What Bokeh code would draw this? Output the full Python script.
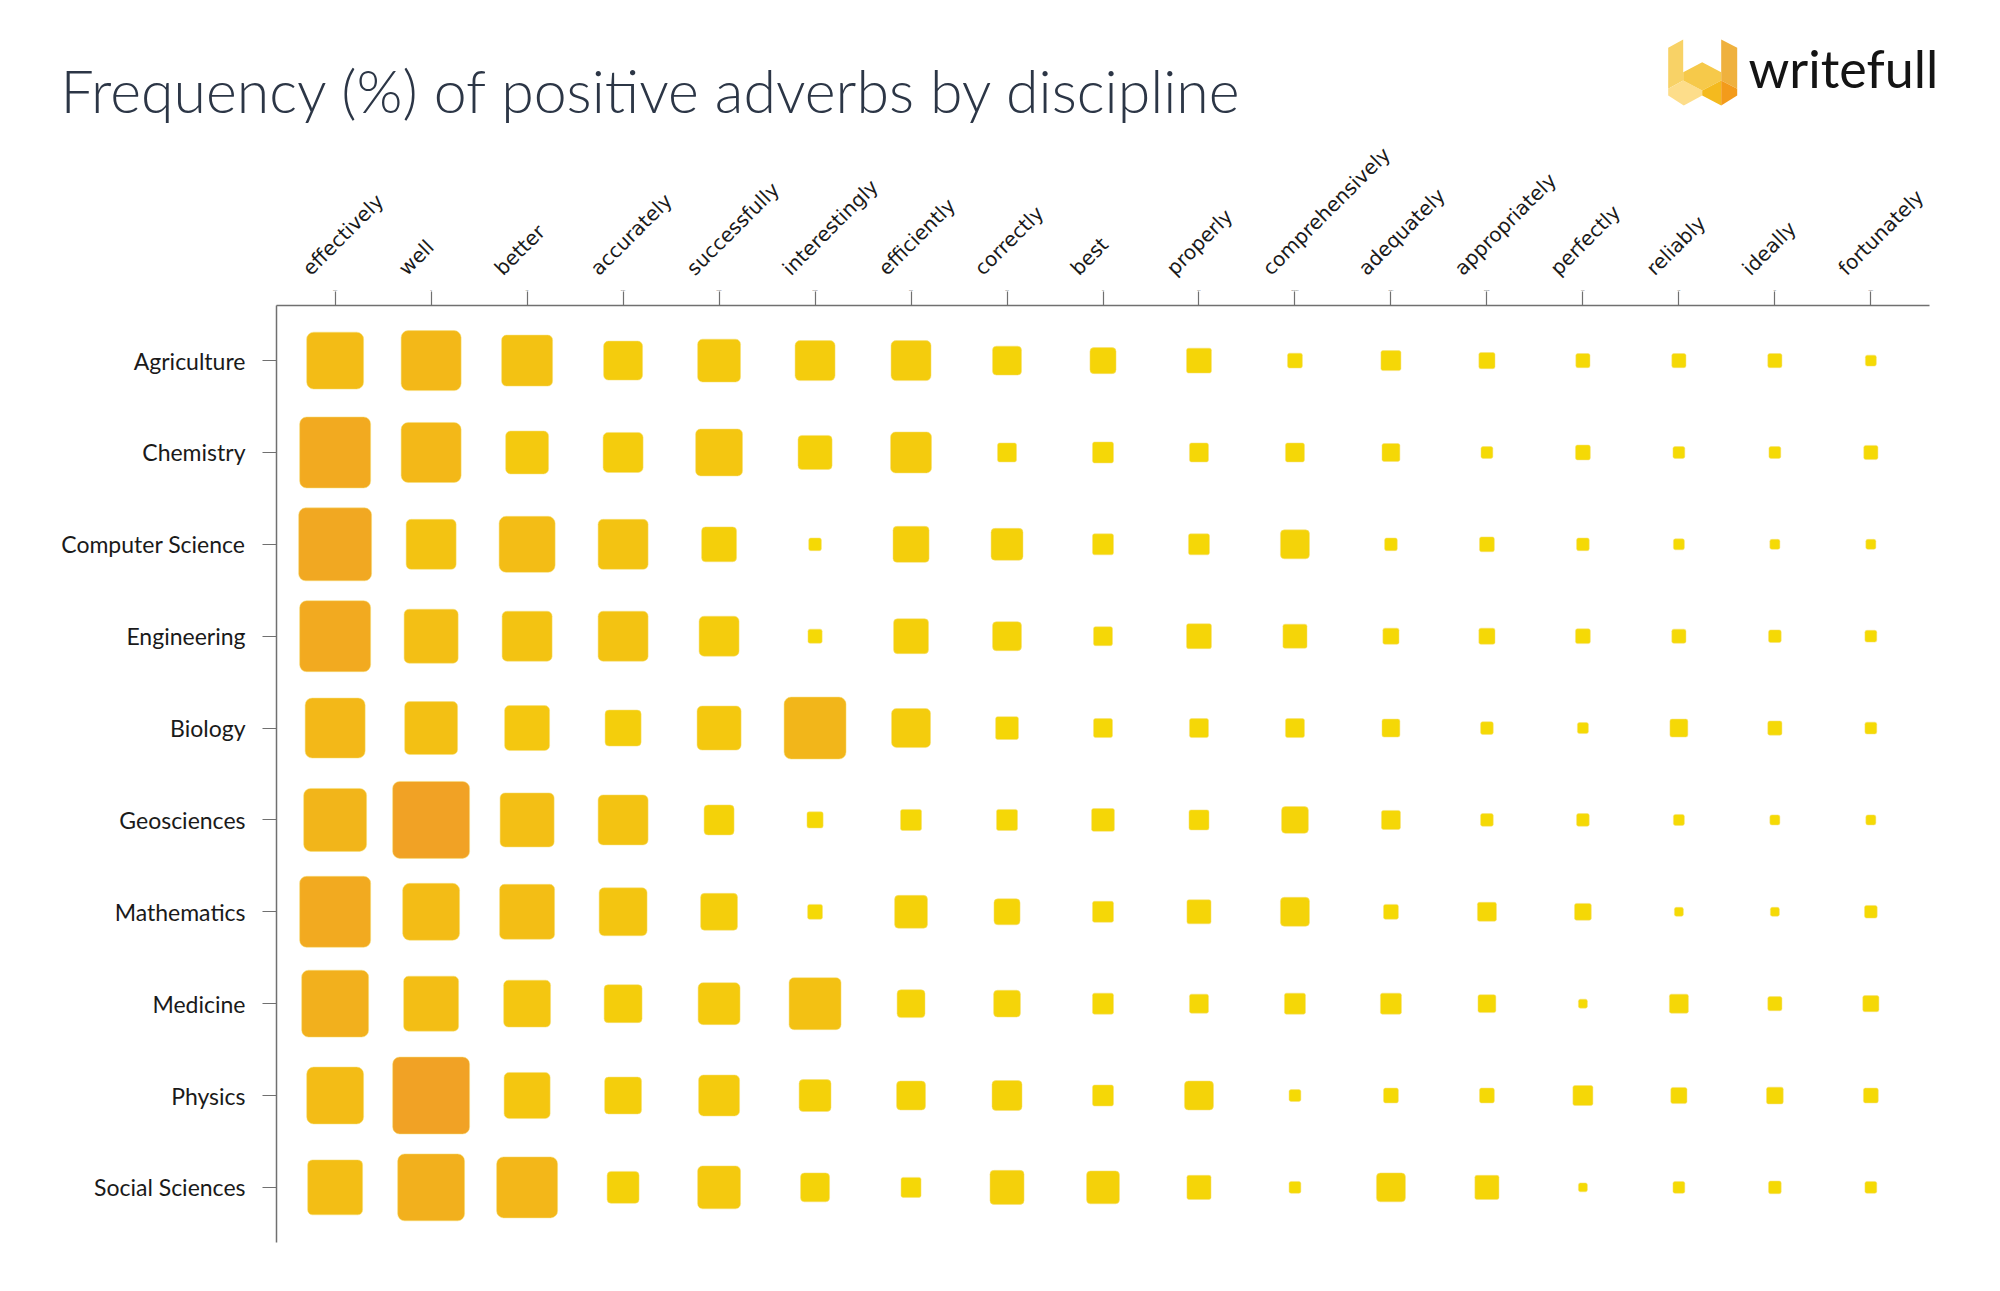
import math
import numpy as np
from bokeh.plotting import figure
from bokeh.layouts import column
from bokeh.models import FactorRange, Range1d, LinearColorMapper, ColumnDataSource
from bokeh.core.properties import value
from bokeh.transform import transform
from bokeh.embed import file_html
from bokeh.resources import INLINE

# ---------------- data ----------------
adverbs = ["effectively", "well", "better", "accurately", "successfully",
           "interestingly", "efficiently", "correctly", "best", "properly",
           "comprehensively", "adequately", "appropriately", "perfectly",
           "reliably", "ideally", "fortunately"]

disciplines = ["Agriculture", "Chemistry", "Computer Science", "Engineering",
               "Biology", "Geosciences", "Mathematics", "Medicine", "Physics",
               "Social Sciences"]

agriculture = [16.2, 18.0, 13.0, 7.6, 9.2, 8.0, 8.0, 4.2, 3.4, 3.1, 1.1, 2.0, 1.3, 1.0, 1.0, 1.0, 0.6]
chemistry = [25.2, 18.0, 9.2, 8.0, 11.0, 5.8, 8.4, 1.8, 2.2, 1.8, 1.8, 1.6, 0.7, 1.1, 0.7, 0.7, 1.0]
computer_science = [26.6, 12.5, 15.7, 12.5, 6.1, 0.8, 6.5, 5.1, 2.2, 2.2, 4.2, 0.8, 1.1, 0.8, 0.6, 0.5, 0.5]
engineering = [25.2, 14.6, 12.5, 12.5, 8.0, 1.0, 6.1, 4.2, 1.8, 3.1, 2.9, 1.3, 1.3, 1.1, 1.0, 0.8, 0.7]
biology = [18.0, 14.0, 10.1, 6.5, 9.7, 19.2, 7.6, 2.6, 1.8, 1.8, 1.8, 1.6, 0.8, 0.6, 1.6, 1.0, 0.7]
geosciences = [19.8, 29.6, 14.6, 12.5, 4.5, 1.3, 2.2, 2.2, 2.6, 2.0, 3.6, 1.8, 0.8, 0.8, 0.6, 0.5, 0.5]
mathematics = [25.2, 16.2, 15.1, 11.5, 6.8, 1.1, 5.4, 3.4, 2.2, 2.9, 4.2, 1.1, 1.8, 1.4, 0.4, 0.4, 0.8]
medicine = [22.4, 15.1, 11.0, 7.2, 8.8, 13.5, 3.9, 3.6, 2.2, 1.8, 2.2, 2.2, 1.6, 0.4, 1.8, 1.0, 1.3]
physics = [16.2, 29.6, 10.6, 6.8, 8.4, 5.1, 4.2, 4.5, 2.2, 4.2, 0.7, 1.1, 1.1, 2.0, 1.3, 1.4, 1.1]
social_sciences = [15.1, 22.4, 18.6, 5.1, 9.2, 4.2, 2.0, 5.8, 5.4, 2.9, 0.7, 4.2, 2.9, 0.4, 0.7, 0.8, 0.7]

rows = [agriculture, chemistry, computer_science, engineering, biology,
        geosciences, mathematics, medicine, physics, social_sciences]

title_text = "Frequency (%) of positive adverbs by discipline"
brand_text = "writefull"

# ---------------- geometry ----------------
PAGE_W = 2000
TOP_H = 286                      # header strip: title, logo, column labels
FRAME_W, FRAME_H = 1653, 937
LEFT, TOP, BOTTOM = 276, 305 - TOP_H, 41
RIGHT = PAGE_W - LEFT - FRAME_W
XPAD, YPAD = 0.111, 0.1          # absolute padding on each side of the factor ranges
ppu_x = FRAME_W / (len(adverbs) + 2 * XPAD)

def hx(page_x):                  # page px -> header x (same units as main x factors)
    return (page_x - LEFT) / ppu_x - XPAD
def hy(page_y):                  # page px -> header y (y up)
    return TOP_H - page_y

# ---------------- header figure ----------------
head = figure(frame_width=PAGE_W, frame_height=TOP_H, x_range=Range1d(hx(0), hx(PAGE_W)),
              y_range=Range1d(0, TOP_H), min_border=0, output_backend="svg",
              toolbar_location=None, x_axis_location=None, y_axis_location=None,
              title=None)
head.grid.visible = False
head.outline_line_color = None

head.text(x=[hx(60)], y=[hy(90)], text=[title_text], text_font=value("Lato Light"),
          text_font_size=value("59px"), text_color="#2c3646",
          text_baseline="alphabetic", text_align="left")
head.text(x=[hx(1748)], y=[hy(67)], text=[brand_text], text_font=value("Lato"),
          text_font_size=value("52px"), text_color="#141414",
          text_baseline="alphabetic", text_align="left")

logo = [
    ("#F8D266", [(1667.7, 47.3), (1682.7, 39), (1682.7, 80), (1667.7, 88.3)]),
    ("#FDDD8A", [(1667.7, 88.3), (1682.7, 80), (1701.7, 90), (1701.7, 95), (1683.3, 105), (1667.7, 95)]),
    ("#F6C94A", [(1682.7, 71.7), (1701.7, 61.7), (1720.7, 71.7), (1720.7, 80), (1701.7, 90), (1682.7, 80)]),
    ("#F4BA1E", [(1701.7, 90), (1720.7, 80), (1720.7, 105), (1701.7, 95)]),
    ("#EFB13E", [(1720.7, 39), (1736.7, 47.3), (1736.7, 88.3), (1720.7, 80)]),
    ("#F39B1B", [(1720.7, 80), (1736.7, 88.3), (1736.7, 95), (1720.7, 105)]),
]
head.patches(xs=[[hx(a) for a, b in pts] for c, pts in logo],
             ys=[[hy(b) for a, b in pts] for c, pts in logo],
             fill_color=[c for c, pts in logo], line_color=None)

# column labels (rotated), positioned at the factor centres of the main x range
head.text(x=[i + 0.5 for i in range(len(adverbs))], y=[hy(271)] * len(adverbs), text=adverbs,
          angle=math.pi / 4, x_offset=-29, text_font=value("DejaVu Sans"),
          text_font_size=value("20px"), text_color="#1a1a1a",
          text_baseline="alphabetic", text_align="left")

# ---------------- main figure ----------------
p = figure(
    x_range=FactorRange(factors=adverbs, range_padding=XPAD, range_padding_units="absolute"),
    y_range=FactorRange(factors=list(reversed(disciplines)), range_padding=YPAD,
                        range_padding_units="absolute"),
    frame_width=FRAME_W, frame_height=FRAME_H,
    min_border_left=LEFT, min_border_top=TOP, min_border_right=RIGHT, min_border_bottom=BOTTOM,
    x_axis_location="above", output_backend="svg", toolbar_location=None,
)
p.outline_line_color = None
p.grid.visible = False

for fig in (head, p):
    try:
        fig.frame_align = False
    except Exception:
        pass

xs, ys, vals = [], [], []
for d, row in zip(disciplines, rows):
    for a, v in zip(adverbs, row):
        xs.append(a)
        ys.append(d)
        vals.append(v)
vals = np.array(vals)
side = np.sqrt(vals * 200.0)

c0 = np.array([0xF5, 0xDA, 0x05], dtype=float)
c1 = np.array([0xF1, 0xA2, 0x25], dtype=float)
palette = []
for t in np.linspace(0, 1, 256):
    c = (c0 + (c1 - c0) * t).round().astype(int)
    palette.append("#%02x%02x%02x" % tuple(c))
mapper = LinearColorMapper(palette=palette, low=float(vals.min()), high=float(vals.max()))

bins = [(0, 25, 2), (25, 38, 4), (38, 55, 5), (55, 1000, 7)]
for lo, hi, rad in bins:
    m = (side >= lo) & (side < hi)
    if not m.any():
        continue
    idx = np.where(m)[0]
    src = ColumnDataSource(dict(
        x=[xs[i] for i in idx],
        y=[ys[i] for i in idx],
        v=vals[m].tolist(),
        s=side[m].tolist(),
    ))
    p.rect(x="x", y="y", width="s", height="s", width_units="screen", height_units="screen",
           source=src, fill_color=transform("v", mapper), line_color="#f8e27a",
           line_alpha=0.5, line_width=1, border_radius=rad)

axis_col = "#707070"
for ax in (p.xaxis[0], p.yaxis[0]):
    ax.axis_line_color = axis_col
    ax.axis_line_width = 1.5
    ax.major_tick_line_color = axis_col
    ax.major_tick_line_width = 1.2
    ax.major_tick_out = 14
    ax.major_tick_in = 0
    ax.minor_tick_line_color = None

p.yaxis.major_label_text_font = "Lato"
p.yaxis.major_label_text_font_size = "23px"
p.yaxis.major_label_text_color = "#1a1a1a"
p.yaxis.major_label_standoff = 17

# column labels are drawn rotated in the header strip; keep the axis for line + ticks
p.xaxis.major_label_overrides = {a: " " for a in adverbs}
p.xaxis.major_label_text_font_size = "1px"
p.xaxis.major_label_standoff = 0

layout = column(head, p, spacing=0)
open("out.html", "w").write(file_html(layout, INLINE))
